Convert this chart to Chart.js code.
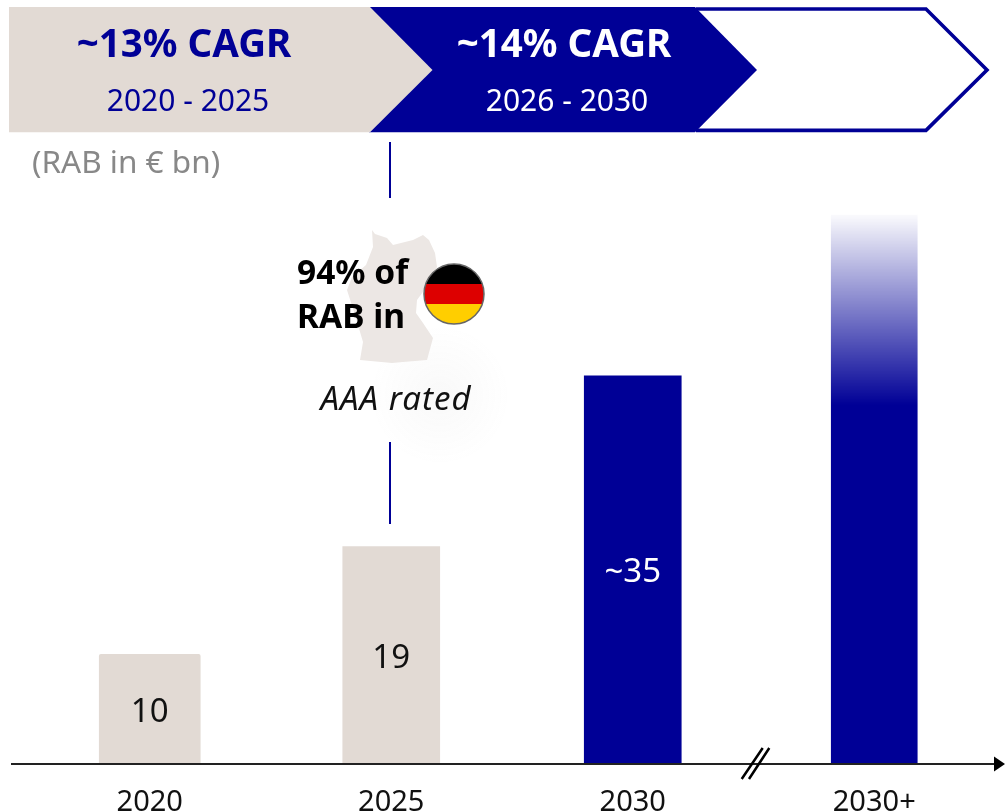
<!DOCTYPE html>
<html>
<head>
<meta charset="utf-8">
<title>RAB</title>
<script src="https://cdn.jsdelivr.net/npm/chart.js@4"></script>
<style>
  html, body { margin: 0; padding: 0; background: #fff; }
  canvas { display: block; }
</style>
</head>
<body>
<canvas id="rabChart" width="1005" height="812"></canvas>
<script>
/* datos */
const categories = ["2020", "2025", "2030", "2030+"];
const rabValues = [9.9, 19.6, 35, 49.5];
const barLabels = ["10", "19", "~35", ""];

/* estilos */
const NAVY = "#000096";
const BEIGE = "#E2DAD4";
const FONT = '"Noto Sans", sans-serif';
const barWidths = [101, 97, 97, 86];
const labelColors = ["#111", "#111", "#fff", "#fff"];

const polygon = (ctx, pts) => {
    ctx.beginPath();
    pts.forEach((p, i) => i ? ctx.lineTo(p[0], p[1]) : ctx.moveTo(p[0], p[1]));
    ctx.closePath();
};

const text = (ctx, str, x, y, font, color, align, spacing) => {
    ctx.font = font;
    ctx.fillStyle = color;
    ctx.textAlign = align || "center";
    ctx.textBaseline = "middle";
    ctx.letterSpacing = spacing || "0px";
    ctx.fillText(str, x, y);
    ctx.letterSpacing = "0px";
};

/* flechas de arriba, mapa y bandera */
const backdrop = {
    id: "backdrop",
    beforeDatasetsDraw(chart) {
        const ctx = chart.ctx;
        ctx.save();

        // contorno abierto, el lado izquierdo queda bajo la flecha azul
        ctx.beginPath();
        ctx.moveTo(696, 9);
        ctx.lineTo(926, 9);
        ctx.lineTo(987, 70);
        ctx.lineTo(926, 130.4);
        ctx.lineTo(696, 130.4);
        ctx.strokeStyle = NAVY;
        ctx.lineWidth = 3.6;
        ctx.stroke();

        polygon(ctx, [[369, 7], [695, 7], [757, 70], [695, 132.3], [369, 132.3]]);
        ctx.fillStyle = NAVY;
        ctx.fill();

        polygon(ctx, [[9, 7], [370, 7], [432.5, 70], [370, 132.3], [9, 132.3]]);
        ctx.fillStyle = BEIGE;
        ctx.fill();

        text(ctx, "~13% CAGR", 184, 46, `bold 38.5px ${FONT}`, NAVY);
        text(ctx, "2020 - 2025", 188, 102, `30px ${FONT}`, NAVY);
        text(ctx, "~14% CAGR", 564, 46, `bold 38.5px ${FONT}`, "#fff");
        text(ctx, "2026 - 2030", 567, 102, `30px ${FONT}`, "#fff");
        text(ctx, "(RAB in € bn)", 32, 164, `31.5px ${FONT}`, "#888", "left");

        ctx.fillStyle = NAVY;
        ctx.fillRect(389, 142, 2, 56);
        ctx.fillRect(389, 442, 2, 82);

        // sombra suave
        const glow = ctx.createRadialGradient(440, 395, 10, 440, 395, 70);
        glow.addColorStop(0, "rgba(120,120,120,0.04)");
        glow.addColorStop(1, "rgba(120,120,120,0)");
        ctx.fillStyle = glow;
        ctx.fillRect(370, 325, 140, 140);

        // mapa
        polygon(ctx, [[372, 230], [375, 234], [387, 238], [393, 245], [413, 240], [423, 235], [429, 240],
            [435, 253], [437, 267], [428, 285], [417, 300], [416, 313], [423, 323], [433, 338], [427, 360],
            [403, 362], [392, 363], [360, 360], [363, 342], [355, 315], [347, 290], [352, 277], [366, 265], [373, 247]]);
        ctx.fillStyle = "#ECE7E4";
        ctx.fill();

        // bandera
        const fx = 454, fy = 294, fr = 30;
        ctx.save();
        ctx.beginPath();
        ctx.arc(fx, fy, fr, 0, Math.PI * 2);
        ctx.clip();
        ctx.fillStyle = "#000";
        ctx.fillRect(fx - fr, fy - fr, fr * 2, 20);
        ctx.fillStyle = "#DD0000";
        ctx.fillRect(fx - fr, fy - 10, fr * 2, 20);
        ctx.fillStyle = "#FFCE00";
        ctx.fillRect(fx - fr, fy + 10, fr * 2, 20);
        ctx.restore();
        ctx.beginPath();
        ctx.arc(fx, fy, fr, 0, Math.PI * 2);
        ctx.strokeStyle = "#666";
        ctx.lineWidth = 1.5;
        ctx.stroke();

        text(ctx, "94% of", 297, 274, `bold 33.5px ${FONT}`, "#000", "left");
        text(ctx, "RAB in", 297, 318, `bold 33.5px ${FONT}`, "#000", "left");
        text(ctx, "AAA rated", 396, 401, `italic 33px ${FONT}`, "#111", "center", "1px");

        ctx.restore();
    },
    afterDatasetsDraw(chart) {
        const ctx = chart.ctx;
        const y0 = chart.scales.y.getPixelForValue(0);
        ctx.save();

        // valores dentro de las barras
        chart.data.datasets.forEach((ds, i) => {
            const bar = chart.getDatasetMeta(i).data[i];
            text(ctx, barLabels[i], bar.x, (bar.y + bar.base) / 2 + 3, `33px ${FONT}`, labelColors[i]);
        });

        // eje con flecha
        ctx.strokeStyle = "#222";
        ctx.lineWidth = 2.2;
        ctx.beginPath();
        ctx.moveTo(11, y0);
        ctx.lineTo(996, y0);
        ctx.stroke();
        polygon(ctx, [[994, y0 - 7.5], [1005, y0], [994, y0 + 7.5]]);
        ctx.fillStyle = "#000";
        ctx.fill();

        // corte del eje
        ctx.strokeStyle = "#000";
        ctx.lineWidth = 2.5;
        ctx.beginPath();
        ctx.moveTo(741.7, y0 + 15);
        ctx.lineTo(762.7, y0 - 16);
        ctx.moveTo(749, y0 + 15);
        ctx.lineTo(769.3, y0 - 16);
        ctx.stroke();

        ctx.restore();
    }
};

/* barra con degradado para 2030+ */
const fadeBar = (context) => {
    const { chart } = context;
    if (!chart.chartArea) return NAVY;
    const y = chart.scales.y;
    const top = y.getPixelForValue(rabValues[3]);
    const g = chart.ctx.createLinearGradient(0, top, 0, top + 190);
    g.addColorStop(0, "rgba(0,0,150,0.02)");
    g.addColorStop(1, NAVY);
    return g;
};

const barColors = [BEIGE, BEIGE, NAVY, fadeBar];

const datasets = categories.map((cat, i) => ({
    label: cat,
    data: categories.map((c, j) => (j === i ? rabValues[i] : null)),
    backgroundColor: barColors[i],
    barThickness: barWidths[i],
    borderRadius: i === 0 ? 2 : 0,
    borderSkipped: "bottom"
}));

new Chart(document.getElementById("rabChart"), {
    type: "bar",
    data: { labels: categories, datasets },
    plugins: [backdrop],
    options: {
        responsive: false,
        animation: false,
        datasets: { bar: { grouped: false } },
        layout: { padding: { left: 29, right: 10, top: 0, bottom: -22 } },
        plugins: { legend: { display: false }, tooltip: { enabled: false } },
        scales: {
            x: {
                grid: { display: false },
                border: { display: false },
                ticks: {
                    color: "#111",
                    font: { family: "Noto Sans", size: 29, lineHeight: 1 },
                    padding: 16.5,
                    maxRotation: 0,
                    autoSkip: false
                }
            },
            y: { display: false, min: 0, max: 68.9 }
        }
    }
});
</script>
</body>
</html>
